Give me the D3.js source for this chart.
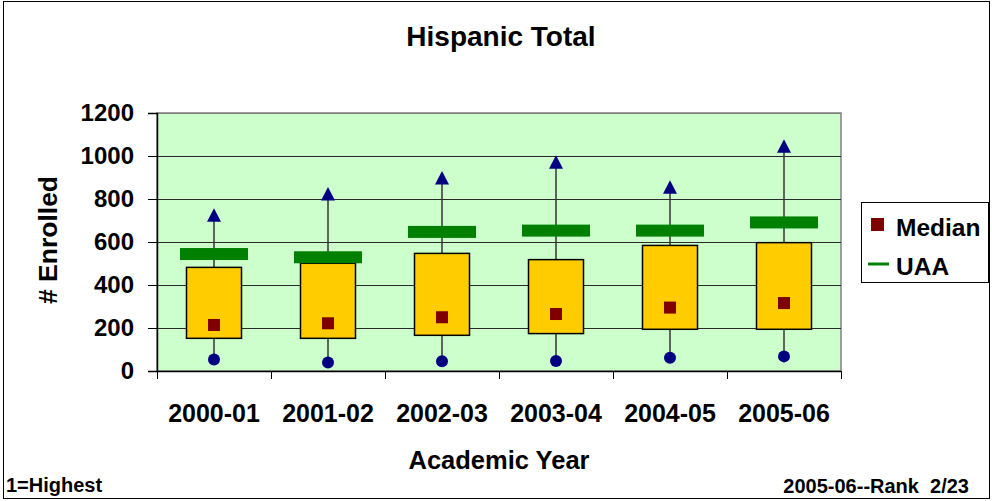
<!DOCTYPE html>
<html>
<head>
<meta charset="utf-8">
<script src="https://cdnjs.cloudflare.com/ajax/libs/d3/7.8.5/d3.min.js"></script>
<style>
  html, body { margin: 0; padding: 0; background: #fff; }
  svg { display: block; font-family: "Liberation Sans", Arial, sans-serif; font-weight: bold; }
</style>
</head>
<body>
<svg id="chart" width="992" height="501"></svg>
<script>
// ---- data ----
const years   = ["2000-01", "2001-02", "2002-03", "2003-04", "2004-05", "2005-06"];
const maxVals = [724, 823, 898, 971, 855, 1045];
const q3Vals  = [482, 501, 547, 518, 584, 597];
const medians = [214, 222, 250, 265, 295, 316];
const q1Vals  = [152, 152, 166, 174, 194, 194];
const minVals = [53, 40, 45, 47, 62, 68];
const uaaVals = [544, 529, 647, 653, 653, 691];
const yTicks  = [0, 200, 400, 600, 800, 1000, 1200];

const svg = d3.select("#chart");
const plot = { left: 157, right: 841, top: 113, bottom: 371 };

const x = d3.scaleBand().domain(years).range([plot.left, plot.right]).paddingInner(0).paddingOuter(0);
const y = d3.scaleLinear().domain([0, 1200]).range([plot.bottom, plot.top]);

// outer border
svg.append("rect").attr("x", 3.5).attr("y", 1.5).attr("width", 986).attr("height", 497)
  .attr("fill", "#fff").attr("stroke", "#000").attr("stroke-width", 1);

// plot background
svg.append("rect").attr("x", plot.left).attr("y", plot.top)
  .attr("width", plot.right - plot.left).attr("height", plot.bottom - plot.top)
  .attr("fill", "#CCFFCC").attr("stroke", "#808080").attr("stroke-width", 1.5);

// gridlines
svg.append("g").selectAll("line").data(yTicks.filter(d => d > 0)).join("line")
  .attr("x1", plot.left).attr("x2", plot.right)
  .attr("y1", d => Math.round(y(d)) + 0.5).attr("y2", d => Math.round(y(d)) + 0.5)
  .attr("stroke", d => d === 1200 ? "#808080" : "#2a2a2a").attr("stroke-width", 1);

// y axis
const yAxis = svg.append("g").attr("transform", `translate(${plot.left},0)`)
  .call(d3.axisLeft(y).tickValues(yTicks).tickSize(9).tickPadding(14).tickFormat(d3.format("d")));
yAxis.select(".domain").attr("stroke", "#000").attr("stroke-width", 1.5);
yAxis.selectAll(".tick line").attr("stroke", "#000");
yAxis.selectAll("text").attr("font-size", 24).attr("font-weight", "bold").attr("fill", "#000")
  .attr("font-family", "'Liberation Sans', Arial, sans-serif");

// x axis labels
const xAxis = svg.append("g").attr("transform", `translate(0,${plot.bottom})`)
  .call(d3.axisBottom(x).tickSize(0).tickPadding(33));
xAxis.select(".domain").remove();
xAxis.selectAll("text").attr("font-size", 25).attr("font-weight", "bold").attr("fill", "#000")
  .attr("font-family", "'Liberation Sans', Arial, sans-serif");
// x axis line & boundary ticks
svg.append("line").attr("x1", plot.left).attr("x2", plot.right)
  .attr("y1", plot.bottom + 0.5).attr("y2", plot.bottom + 0.5).attr("stroke", "#000").attr("stroke-width", 1.5);
const bounds = years.map(d => x(d)).concat([x(years[years.length - 1]) + x.bandwidth()]);
svg.append("g").selectAll("line").data(bounds).join("line")
  .attr("x1", d => Math.round(d) + 0.5).attr("x2", d => Math.round(d) + 0.5)
  .attr("y1", plot.bottom).attr("y2", plot.bottom + 8).attr("stroke", "#000");

// boxes
const bw = 55, uw = 68, uh = 12;
const rows = years.map((yr, i) => ({ yr, max: maxVals[i], q3: q3Vals[i], med: medians[i], q1: q1Vals[i], min: minVals[i], uaa: uaaVals[i] }));
const cx = d => x(d.yr) + x.bandwidth() / 2;

const g = svg.append("g");
// whiskers
g.selectAll("line.w").data(rows).join("line").attr("class", "w")
  .attr("x1", cx).attr("x2", cx).attr("y1", d => y(d.min)).attr("y2", d => y(d.max))
  .attr("stroke", "#333").attr("stroke-width", 1.5);
// boxes
g.selectAll("rect.box").data(rows).join("rect").attr("class", "box")
  .attr("x", d => cx(d) - bw / 2).attr("width", bw)
  .attr("y", d => y(d.q3)).attr("height", d => y(d.q1) - y(d.q3))
  .attr("fill", "#FFCC00").attr("stroke", "#000").attr("stroke-width", 1.5);
// UAA bars
g.selectAll("rect.uaa").data(rows).join("rect").attr("class", "uaa")
  .attr("x", d => cx(d) - uw / 2).attr("width", uw)
  .attr("y", d => y(d.uaa) - uh / 2).attr("height", uh)
  .attr("fill", "#008000");
// median squares
g.selectAll("rect.med").data(rows).join("rect").attr("class", "med")
  .attr("x", d => cx(d) - 6).attr("width", 12)
  .attr("y", d => y(d.med) - 6).attr("height", 12)
  .attr("fill", "#800000");
// min circles
g.selectAll("circle.min").data(rows).join("circle").attr("class", "min")
  .attr("cx", cx).attr("cy", d => y(d.min)).attr("r", 6).attr("fill", "#000080");
// max triangles
g.selectAll("path.max").data(rows).join("path").attr("class", "max")
  .attr("d", d => { const X = cx(d), Y = y(d.max); return `M${X},${Y - 7}L${X + 7},${Y + 6.5}L${X - 7},${Y + 6.5}Z`; })
  .attr("fill", "#000080");

// title & axis titles
svg.append("text").attr("x", 501).attr("y", 46).attr("text-anchor", "middle")
  .attr("font-size", 28).text("Hispanic Total");
svg.append("text").attr("x", 499).attr("y", 469).attr("text-anchor", "middle")
  .attr("font-size", 25.5).text("Academic Year");
svg.append("text").attr("transform", "translate(57,240) rotate(-90)").attr("text-anchor", "middle")
  .attr("font-size", 26.5).text("# Enrolled");

// legend
svg.append("rect").attr("x", 861.5).attr("y", 202.5).attr("width", 127).attr("height", 80)
  .attr("fill", "#fff").attr("stroke", "#000").attr("stroke-width", 1);
svg.append("rect").attr("x", 871).attr("y", 218).attr("width", 13).attr("height", 13).attr("fill", "#800000");
svg.append("text").attr("x", 896).attr("y", 236).attr("font-size", 24.5).text("Median");
svg.append("line").attr("x1", 868).attr("x2", 889).attr("y1", 264).attr("y2", 264)
  .attr("stroke", "#008000").attr("stroke-width", 3);
svg.append("text").attr("x", 896).attr("y", 275).attr("font-size", 24.5).text("UAA");

// footnotes
svg.append("text").attr("x", 6).attr("y", 492).attr("font-size", 20).text("1=Highest");
svg.append("text").attr("x", 969).attr("y", 493).attr("text-anchor", "end").attr("font-size", 20)
  .attr("xml:space", "preserve").style("white-space", "pre").text("2005-06--Rank  2/23");
</script>
</body>
</html>
